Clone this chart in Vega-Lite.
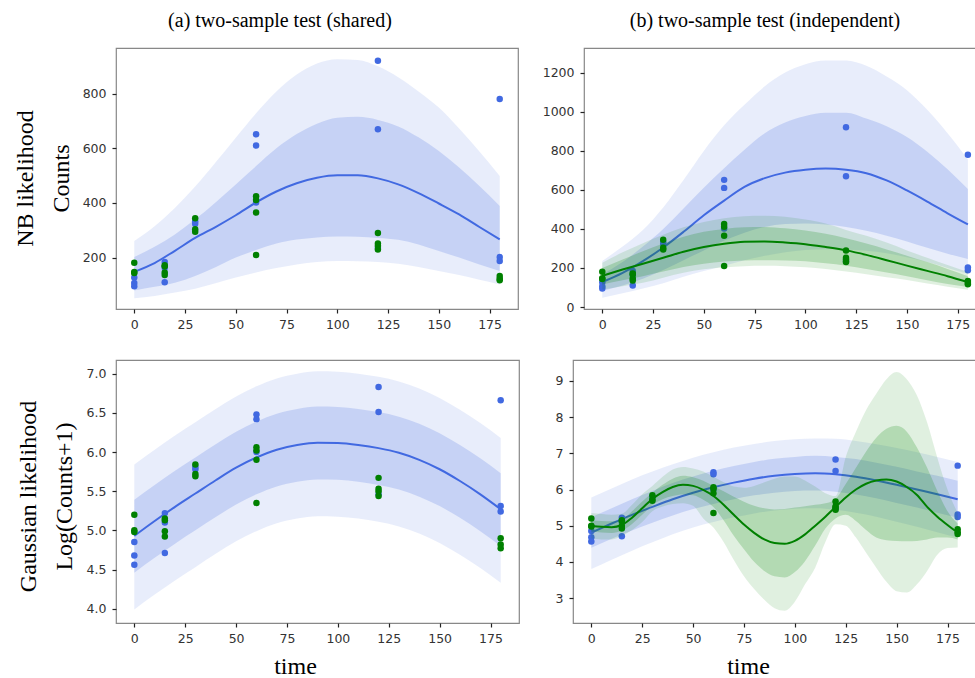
{
"$schema": "https://vega.github.io/schema/vega-lite/v6.json",
"background": "white",
"padding": {"left": 12, "top": 10, "right": 0, "bottom": 10},
"datasets": {
"obs": [
{"s":"c","g":"b","t":0,"y":127},{"s":"c","g":"b","t":0,"y":107},{"s":"c","g":"b","t":0,"y":95},{"s":"c","g":"b","t":15,"y":184},{"s":"c","g":"b","t":15,"y":163},{"s":"c","g":"b","t":15,"y":110},{"s":"c","g":"b","t":30,"y":333},{"s":"c","g":"b","t":30,"y":324},{"s":"c","g":"b","t":60,"y":651},{"s":"c","g":"b","t":60,"y":610},{"s":"c","g":"b","t":60,"y":402},{"s":"c","g":"b","t":120,"y":920},{"s":"c","g":"b","t":120,"y":670},{"s":"c","g":"b","t":120,"y":235},{"s":"c","g":"b","t":180,"y":780},{"s":"c","g":"b","t":180,"y":202},{"s":"c","g":"b","t":180,"y":188},
{"s":"c","g":"g","t":0,"y":181},{"s":"c","g":"g","t":0,"y":147},{"s":"c","g":"g","t":0,"y":144},{"s":"c","g":"g","t":15,"y":172},{"s":"c","g":"g","t":15,"y":168},{"s":"c","g":"g","t":15,"y":146},{"s":"c","g":"g","t":15,"y":136},{"s":"c","g":"g","t":30,"y":344},{"s":"c","g":"g","t":30,"y":304},{"s":"c","g":"g","t":30,"y":295},{"s":"c","g":"g","t":60,"y":425},{"s":"c","g":"g","t":60,"y":411},{"s":"c","g":"g","t":60,"y":365},{"s":"c","g":"g","t":60,"y":210},{"s":"c","g":"g","t":120,"y":290},{"s":"c","g":"g","t":120,"y":252},{"s":"c","g":"g","t":120,"y":243},{"s":"c","g":"g","t":120,"y":230},{"s":"c","g":"g","t":180,"y":133},{"s":"c","g":"g","t":180,"y":123},{"s":"c","g":"g","t":180,"y":117},
{"s":"l","g":"b","t":0,"y":4.85},{"s":"l","g":"b","t":0,"y":4.68},{"s":"l","g":"b","t":0,"y":4.56},{"s":"l","g":"b","t":15,"y":5.22},{"s":"l","g":"b","t":15,"y":5.10},{"s":"l","g":"b","t":15,"y":4.71},{"s":"l","g":"b","t":30,"y":5.81},{"s":"l","g":"b","t":30,"y":5.78},{"s":"l","g":"b","t":60,"y":6.48},{"s":"l","g":"b","t":60,"y":6.42},{"s":"l","g":"b","t":60,"y":6.00},{"s":"l","g":"b","t":120,"y":6.83},{"s":"l","g":"b","t":120,"y":6.51},{"s":"l","g":"b","t":120,"y":5.46},{"s":"l","g":"b","t":180,"y":6.66},{"s":"l","g":"b","t":180,"y":5.31},{"s":"l","g":"b","t":180,"y":5.24},
{"s":"l","g":"g","t":0,"y":5.20},{"s":"l","g":"g","t":0,"y":5.00},{"s":"l","g":"g","t":0,"y":4.98},{"s":"l","g":"g","t":15,"y":5.15},{"s":"l","g":"g","t":15,"y":5.13},{"s":"l","g":"g","t":15,"y":4.99},{"s":"l","g":"g","t":15,"y":4.92},{"s":"l","g":"g","t":30,"y":5.84},{"s":"l","g":"g","t":30,"y":5.72},{"s":"l","g":"g","t":30,"y":5.69},{"s":"l","g":"g","t":60,"y":6.06},{"s":"l","g":"g","t":60,"y":6.02},{"s":"l","g":"g","t":60,"y":5.90},{"s":"l","g":"g","t":60,"y":5.35},{"s":"l","g":"g","t":120,"y":5.67},{"s":"l","g":"g","t":120,"y":5.53},{"s":"l","g":"g","t":120,"y":5.50},{"s":"l","g":"g","t":120,"y":5.44},{"s":"l","g":"g","t":180,"y":4.90},{"s":"l","g":"g","t":180,"y":4.82},{"s":"l","g":"g","t":180,"y":4.77}
],
"fit": [
{"p":"A","g":"b","t":0,"m":148,"il":80,"ih":202,"ol":51,"oh":261},
{"p":"A","g":"b","t":10,"m":180,"il":93,"ih":240,"ol":60,"oh":315},
{"p":"A","g":"b","t":20,"m":225,"il":108,"ih":285,"ol":72,"oh":382},
{"p":"A","g":"b","t":30,"m":272,"il":133,"ih":340,"ol":86,"oh":460},
{"p":"A","g":"b","t":40,"m":312,"il":165,"ih":402,"ol":106,"oh":548},
{"p":"A","g":"b","t":50,"m":355,"il":200,"ih":468,"ol":127,"oh":639},
{"p":"A","g":"b","t":60,"m":402,"il":228,"ih":535,"ol":146,"oh":728},
{"p":"A","g":"b","t":70,"m":442,"il":252,"ih":600,"ol":162,"oh":808},
{"p":"A","g":"b","t":80,"m":472,"il":266,"ih":652,"ol":175,"oh":870},
{"p":"A","g":"b","t":90,"m":492,"il":274,"ih":690,"ol":184,"oh":910},
{"p":"A","g":"b","t":100,"m":501,"il":277,"ih":712,"ol":188,"oh":926},
{"p":"A","g":"b","t":110,"m":501,"il":276,"ih":715,"ol":187,"oh":923},
{"p":"A","g":"b","t":120,"m":490,"il":272,"ih":704,"ol":184,"oh":900},
{"p":"A","g":"b","t":130,"m":468,"il":265,"ih":680,"ol":178,"oh":860},
{"p":"A","g":"b","t":140,"m":436,"il":248,"ih":640,"ol":166,"oh":808},
{"p":"A","g":"b","t":150,"m":398,"il":224,"ih":590,"ol":151,"oh":749},
{"p":"A","g":"b","t":160,"m":358,"il":200,"ih":530,"ol":136,"oh":672},
{"p":"A","g":"b","t":170,"m":312,"il":175,"ih":462,"ol":119,"oh":588},
{"p":"A","g":"b","t":180,"m":267,"il":151,"ih":389,"ol":102,"oh":499},
{"p":"B","g":"b","t":0,"m":128,"il":82,"ih":167,"ol":48,"oh":236},
{"p":"B","g":"b","t":10,"m":175,"il":110,"ih":230,"ol":70,"oh":310},
{"p":"B","g":"b","t":20,"m":235,"il":145,"ih":310,"ol":95,"oh":395},
{"p":"B","g":"b","t":30,"m":305,"il":190,"ih":400,"ol":122,"oh":510},
{"p":"B","g":"b","t":40,"m":385,"il":240,"ih":505,"ol":155,"oh":650},
{"p":"B","g":"b","t":50,"m":470,"il":290,"ih":611,"ol":184,"oh":799},
{"p":"B","g":"b","t":60,"m":545,"il":340,"ih":710,"ol":212,"oh":930},
{"p":"B","g":"b","t":70,"m":615,"il":380,"ih":805,"ol":240,"oh":1035},
{"p":"B","g":"b","t":80,"m":660,"il":410,"ih":890,"ol":262,"oh":1130},
{"p":"B","g":"b","t":90,"m":688,"il":425,"ih":945,"ol":280,"oh":1200},
{"p":"B","g":"b","t":100,"m":703,"il":428,"ih":978,"ol":292,"oh":1243},
{"p":"B","g":"b","t":110,"m":709,"il":423,"ih":995,"ol":296,"oh":1262},
{"p":"B","g":"b","t":120,"m":703,"il":410,"ih":995,"ol":295,"oh":1262},
{"p":"B","g":"b","t":130,"m":685,"il":390,"ih":965,"ol":288,"oh":1235},
{"p":"B","g":"b","t":140,"m":648,"il":365,"ih":925,"ol":275,"oh":1180},
{"p":"B","g":"b","t":150,"m":597,"il":335,"ih":870,"ol":255,"oh":1110},
{"p":"B","g":"b","t":160,"m":540,"il":303,"ih":795,"ol":230,"oh":1010},
{"p":"B","g":"b","t":170,"m":480,"il":273,"ih":705,"ol":200,"oh":890},
{"p":"B","g":"b","t":180,"m":423,"il":246,"ih":604,"ol":170,"oh":756},
{"p":"B","g":"g","t":0,"m":160,"il":116,"ih":200,"ol":90,"oh":227},
{"p":"B","g":"g","t":10,"m":192,"il":137,"ih":243,"ol":107,"oh":280},
{"p":"B","g":"g","t":20,"m":222,"il":158,"ih":285,"ol":124,"oh":327},
{"p":"B","g":"g","t":30,"m":252,"il":182,"ih":325,"ol":150,"oh":370},
{"p":"B","g":"g","t":40,"m":283,"il":205,"ih":360,"ol":175,"oh":408},
{"p":"B","g":"g","t":50,"m":307,"il":222,"ih":385,"ol":193,"oh":435},
{"p":"B","g":"g","t":60,"m":324,"il":233,"ih":400,"ol":203,"oh":455},
{"p":"B","g":"g","t":70,"m":334,"il":238,"ih":408,"ol":209,"oh":465},
{"p":"B","g":"g","t":80,"m":336,"il":240,"ih":410,"ol":211,"oh":467},
{"p":"B","g":"g","t":90,"m":331,"il":238,"ih":403,"ol":209,"oh":462},
{"p":"B","g":"g","t":100,"m":322,"il":234,"ih":392,"ol":204,"oh":448},
{"p":"B","g":"g","t":110,"m":307,"il":224,"ih":375,"ol":195,"oh":428},
{"p":"B","g":"g","t":120,"m":290,"il":212,"ih":352,"ol":182,"oh":395},
{"p":"B","g":"g","t":130,"m":267,"il":195,"ih":325,"ol":168,"oh":365},
{"p":"B","g":"g","t":140,"m":240,"il":177,"ih":295,"ol":152,"oh":330},
{"p":"B","g":"g","t":150,"m":212,"il":158,"ih":263,"ol":138,"oh":290},
{"p":"B","g":"g","t":160,"m":185,"il":137,"ih":230,"ol":120,"oh":252},
{"p":"B","g":"g","t":170,"m":158,"il":118,"ih":195,"ol":104,"oh":215},
{"p":"B","g":"g","t":180,"m":128,"il":102,"ih":158,"ol":88,"oh":180},
{"p":"C","g":"b","t":0,"m":4.93,"il":4.46,"ih":5.39,"ol":3.99,"oh":5.84},
{"p":"C","g":"b","t":10,"m":5.12,"il":4.65,"ih":5.58,"ol":4.18,"oh":6.03},
{"p":"C","g":"b","t":20,"m":5.30,"il":4.83,"ih":5.76,"ol":4.36,"oh":6.21},
{"p":"C","g":"b","t":30,"m":5.47,"il":5.00,"ih":5.93,"ol":4.53,"oh":6.38},
{"p":"C","g":"b","t":40,"m":5.64,"il":5.17,"ih":6.10,"ol":4.70,"oh":6.55},
{"p":"C","g":"b","t":50,"m":5.80,"il":5.33,"ih":6.26,"ol":4.86,"oh":6.71},
{"p":"C","g":"b","t":60,"m":5.93,"il":5.46,"ih":6.39,"ol":4.99,"oh":6.84},
{"p":"C","g":"b","t":70,"m":6.03,"il":5.56,"ih":6.49,"ol":5.09,"oh":6.94},
{"p":"C","g":"b","t":80,"m":6.09,"il":5.62,"ih":6.55,"ol":5.15,"oh":7.00},
{"p":"C","g":"b","t":90,"m":6.12,"il":5.65,"ih":6.58,"ol":5.18,"oh":7.03},
{"p":"C","g":"b","t":100,"m":6.115,"il":5.645,"ih":6.575,"ol":5.175,"oh":7.025},
{"p":"C","g":"b","t":110,"m":6.09,"il":5.62,"ih":6.55,"ol":5.15,"oh":7.00},
{"p":"C","g":"b","t":120,"m":6.05,"il":5.58,"ih":6.51,"ol":5.11,"oh":6.96},
{"p":"C","g":"b","t":130,"m":5.99,"il":5.52,"ih":6.45,"ol":5.05,"oh":6.90},
{"p":"C","g":"b","t":140,"m":5.90,"il":5.43,"ih":6.36,"ol":4.96,"oh":6.81},
{"p":"C","g":"b","t":150,"m":5.78,"il":5.31,"ih":6.24,"ol":4.84,"oh":6.69},
{"p":"C","g":"b","t":160,"m":5.63,"il":5.16,"ih":6.09,"ol":4.69,"oh":6.54},
{"p":"C","g":"b","t":170,"m":5.46,"il":4.99,"ih":5.92,"ol":4.52,"oh":6.37},
{"p":"C","g":"b","t":180,"m":5.27,"il":4.80,"ih":5.73,"ol":4.33,"oh":6.18},
{"p":"D","g":"b","t":0,"m":4.81,"il":4.39,"ih":5.23,"ol":3.80,"oh":5.78},
{"p":"D","g":"b","t":10,"m":5.06,"il":4.64,"ih":5.48,"ol":4.06,"oh":6.03},
{"p":"D","g":"b","t":20,"m":5.30,"il":4.87,"ih":5.73,"ol":4.31,"oh":6.28},
{"p":"D","g":"b","t":30,"m":5.52,"il":5.08,"ih":5.96,"ol":4.54,"oh":6.50},
{"p":"D","g":"b","t":40,"m":5.73,"il":5.28,"ih":6.18,"ol":4.76,"oh":6.70},
{"p":"D","g":"b","t":50,"m":5.91,"il":5.46,"ih":6.36,"ol":4.95,"oh":6.88},
{"p":"D","g":"b","t":60,"m":6.06,"il":5.60,"ih":6.52,"ol":5.10,"oh":7.03},
{"p":"D","g":"b","t":70,"m":6.19,"il":5.73,"ih":6.65,"ol":5.23,"oh":7.16},
{"p":"D","g":"b","t":80,"m":6.30,"il":5.84,"ih":6.76,"ol":5.34,"oh":7.26},
{"p":"D","g":"b","t":90,"m":6.38,"il":5.91,"ih":6.85,"ol":5.42,"oh":7.34},
{"p":"D","g":"b","t":100,"m":6.43,"il":5.96,"ih":6.90,"ol":5.47,"oh":7.39},
{"p":"D","g":"b","t":110,"m":6.45,"il":5.97,"ih":6.93,"ol":5.48,"oh":7.41},
{"p":"D","g":"b","t":120,"m":6.42,"il":5.94,"ih":6.90,"ol":5.44,"oh":7.40},
{"p":"D","g":"b","t":130,"m":6.35,"il":5.86,"ih":6.84,"ol":5.36,"oh":7.34},
{"p":"D","g":"b","t":140,"m":6.25,"il":5.76,"ih":6.74,"ol":5.25,"oh":7.25},
{"p":"D","g":"b","t":150,"m":6.13,"il":5.63,"ih":6.63,"ol":5.11,"oh":7.15},
{"p":"D","g":"b","t":160,"m":6.00,"il":5.50,"ih":6.50,"ol":4.97,"oh":7.03},
{"p":"D","g":"b","t":170,"m":5.87,"il":5.36,"ih":6.38,"ol":4.82,"oh":6.90},
{"p":"D","g":"b","t":180,"m":5.73,"il":5.22,"ih":6.24,"ol":4.67,"oh":6.76},
{"p":"D","g":"g","t":0,"m":4.99,"il":4.84,"ih":5.14,"ol":4.65,"oh":5.35},
{"p":"D","g":"g","t":5,"m":4.97,"il":4.81,"ih":5.13,"ol":4.62,"oh":5.32},
{"p":"D","g":"g","t":10,"m":4.96,"il":4.80,"ih":5.12,"ol":4.62,"oh":5.30},
{"p":"D","g":"g","t":15,"m":5.02,"il":4.87,"ih":5.17,"ol":4.72,"oh":5.33},
{"p":"D","g":"g","t":20,"m":5.22,"il":5.05,"ih":5.40,"ol":4.88,"oh":5.58},
{"p":"D","g":"g","t":25,"m":5.48,"il":5.30,"ih":5.67,"ol":5.10,"oh":5.87},
{"p":"D","g":"g","t":30,"m":5.74,"il":5.57,"ih":5.91,"ol":5.40,"oh":6.10},
{"p":"D","g":"g","t":35,"m":5.93,"il":5.73,"ih":6.13,"ol":5.53,"oh":6.35},
{"p":"D","g":"g","t":40,"m":6.07,"il":5.82,"ih":6.30,"ol":5.60,"oh":6.55},
{"p":"D","g":"g","t":45,"m":6.13,"il":5.86,"ih":6.38,"ol":5.62,"oh":6.62},
{"p":"D","g":"g","t":50,"m":6.10,"il":5.84,"ih":6.34,"ol":5.55,"oh":6.58},
{"p":"D","g":"g","t":55,"m":5.99,"il":5.72,"ih":6.24,"ol":5.20,"oh":6.50},
{"p":"D","g":"g","t":60,"m":5.82,"il":5.52,"ih":6.10,"ol":4.95,"oh":6.35},
{"p":"D","g":"g","t":65,"m":5.58,"il":5.15,"ih":5.95,"ol":4.55,"oh":6.20},
{"p":"D","g":"g","t":70,"m":5.30,"il":4.72,"ih":5.80,"ol":4.05,"oh":6.08},
{"p":"D","g":"g","t":75,"m":5.03,"il":4.35,"ih":5.66,"ol":3.60,"oh":6.05},
{"p":"D","g":"g","t":80,"m":4.80,"il":4.00,"ih":5.55,"ol":3.25,"oh":6.10},
{"p":"D","g":"g","t":85,"m":4.62,"il":3.75,"ih":5.48,"ol":2.95,"oh":6.20},
{"p":"D","g":"g","t":90,"m":4.52,"il":3.60,"ih":5.45,"ol":2.72,"oh":6.30},
{"p":"D","g":"g","t":95,"m":4.50,"il":3.57,"ih":5.46,"ol":2.65,"oh":6.36},
{"p":"D","g":"g","t":100,"m":4.58,"il":3.72,"ih":5.50,"ol":2.90,"oh":6.36},
{"p":"D","g":"g","t":105,"m":4.76,"il":4.02,"ih":5.54,"ol":3.38,"oh":6.25},
{"p":"D","g":"g","t":110,"m":5.00,"il":4.45,"ih":5.58,"ol":3.84,"oh":6.08},
{"p":"D","g":"g","t":115,"m":5.25,"il":4.92,"ih":5.62,"ol":4.55,"oh":5.90},
{"p":"D","g":"g","t":120,"m":5.52,"il":5.20,"ih":5.74,"ol":5.04,"oh":5.82},
{"p":"D","g":"g","t":125,"m":5.78,"il":5.30,"ih":6.15,"ol":5.00,"oh":6.90},
{"p":"D","g":"g","t":130,"m":6.00,"il":5.13,"ih":6.60,"ol":4.67,"oh":7.60},
{"p":"D","g":"g","t":135,"m":6.16,"il":4.88,"ih":7.05,"ol":4.25,"oh":8.20},
{"p":"D","g":"g","t":140,"m":6.25,"il":4.67,"ih":7.43,"ol":3.84,"oh":8.65},
{"p":"D","g":"g","t":145,"m":6.28,"il":4.60,"ih":7.68,"ol":3.45,"oh":9.05},
{"p":"D","g":"g","t":150,"m":6.22,"il":4.58,"ih":7.76,"ol":3.19,"oh":9.25},
{"p":"D","g":"g","t":155,"m":6.07,"il":4.57,"ih":7.60,"ol":3.15,"oh":9.05},
{"p":"D","g":"g","t":160,"m":5.85,"il":4.58,"ih":7.16,"ol":3.38,"oh":8.60},
{"p":"D","g":"g","t":165,"m":5.52,"il":4.62,"ih":6.60,"ol":3.75,"oh":7.85},
{"p":"D","g":"g","t":170,"m":5.25,"il":4.67,"ih":5.96,"ol":4.20,"oh":6.88},
{"p":"D","g":"g","t":175,"m":5.02,"il":4.67,"ih":5.40,"ol":4.38,"oh":6.00},
{"p":"D","g":"g","t":180,"m":4.81,"il":4.62,"ih":5.06,"ol":4.40,"oh":5.35}
]
},
"spacing": 27,
"vconcat": [
{"hconcat": [
{"width": 402, "height": 261,
 "title": {"text": "(a) two-sample test (shared)", "frame": "group", "anchor": "middle", "dx": -37, "offset": 17},
 "encoding": {"x": {"field": "t", "type": "quantitative", "scale": {"domain": [-9, 189], "nice": false, "zero": false}, "axis": {"values": [0,25,50,75,100,125,150,175], "title": null}}},
 "layer": [
  {"data": {"name": "fit"}, "transform": [{"filter": "datum.p=='A'&&datum.g=='b'"}], "mark": {"type": "area", "interpolate": "monotone", "color": "#4169E1", "opacity": 0.12},
   "encoding": {"y": {"field": "ol", "type": "quantitative", "scale": {"domain": [12, 967], "nice": false, "zero": false}, "axis": {"values": [200,400,600,800], "format": "d", "title": ["NB likelihood", "Counts"], "titleX": -84, "titleY": 130, "titleBaseline": "alphabetic", "titleAngle": 270, "titleAlign": "center"}}, "y2": {"field": "oh"}}},
  {"data": {"name": "fit"}, "transform": [{"filter": "datum.p=='A'&&datum.g=='b'"}], "mark": {"type": "area", "interpolate": "monotone", "color": "#4169E1", "opacity": 0.2}, "encoding": {"y": {"field": "il", "type": "quantitative"}, "y2": {"field": "ih"}}},
  {"data": {"name": "fit"}, "transform": [{"filter": "datum.p=='A'&&datum.g=='b'"}], "mark": {"type": "line", "interpolate": "monotone", "color": "#4169E1", "strokeWidth": 2}, "encoding": {"y": {"field": "m", "type": "quantitative"}}},
  {"data": {"name": "obs"}, "transform": [{"filter": "datum.s=='c'&&datum.g=='b'"}], "mark": {"type": "circle", "color": "#4169E1", "size": 42, "opacity": 1}, "encoding": {"y": {"field": "y", "type": "quantitative"}}},
  {"data": {"name": "obs"}, "transform": [{"filter": "datum.s=='c'&&datum.g=='g'"}], "mark": {"type": "circle", "color": "#008000", "size": 42, "opacity": 1}, "encoding": {"y": {"field": "y", "type": "quantitative"}}}
 ]},
{"width": 392, "height": 261,
 "title": {"text": "(b) two-sample test (independent)", "frame": "group", "anchor": "middle", "dx": -15, "offset": 17},
 "encoding": {"x": {"field": "t", "type": "quantitative", "scale": {"domain": [-9, 184], "nice": false, "zero": false}, "axis": {"values": [0,25,50,75,100,125,150,175], "title": null}}},
 "layer": [
  {"data": {"name": "fit"}, "transform": [{"filter": "datum.p=='B'&&datum.g=='b'"}], "mark": {"type": "area", "interpolate": "monotone", "color": "#4169E1", "opacity": 0.12},
   "encoding": {"y": {"field": "ol", "type": "quantitative", "scale": {"domain": [-10, 1326], "nice": false, "zero": false}, "axis": {"values": [0,200,400,600,800,1000,1200], "format": "d", "title": null}}, "y2": {"field": "oh"}}},
  {"data": {"name": "fit"}, "transform": [{"filter": "datum.p=='B'&&datum.g=='b'"}], "mark": {"type": "area", "interpolate": "monotone", "color": "#4169E1", "opacity": 0.2}, "encoding": {"y": {"field": "il", "type": "quantitative"}, "y2": {"field": "ih"}}},
  {"data": {"name": "fit"}, "transform": [{"filter": "datum.p=='B'&&datum.g=='b'"}], "mark": {"type": "line", "interpolate": "monotone", "color": "#4169E1", "strokeWidth": 2}, "encoding": {"y": {"field": "m", "type": "quantitative"}}},
  {"data": {"name": "obs"}, "transform": [{"filter": "datum.s=='c'&&datum.g=='b'"}], "mark": {"type": "circle", "color": "#4169E1", "size": 42, "opacity": 1}, "encoding": {"y": {"field": "y", "type": "quantitative"}}},
  {"data": {"name": "fit"}, "transform": [{"filter": "datum.p=='B'&&datum.g=='g'"}], "mark": {"type": "area", "interpolate": "monotone", "color": "#008000", "opacity": 0.12}, "encoding": {"y": {"field": "ol", "type": "quantitative"}, "y2": {"field": "oh"}}},
  {"data": {"name": "fit"}, "transform": [{"filter": "datum.p=='B'&&datum.g=='g'"}], "mark": {"type": "area", "interpolate": "monotone", "color": "#008000", "opacity": 0.2}, "encoding": {"y": {"field": "il", "type": "quantitative"}, "y2": {"field": "ih"}}},
  {"data": {"name": "fit"}, "transform": [{"filter": "datum.p=='B'&&datum.g=='g'"}], "mark": {"type": "line", "interpolate": "monotone", "color": "#008000", "strokeWidth": 2}, "encoding": {"y": {"field": "m", "type": "quantitative"}}},
  {"data": {"name": "obs"}, "transform": [{"filter": "datum.s=='c'&&datum.g=='g'"}], "mark": {"type": "circle", "color": "#008000", "size": 42, "opacity": 1}, "encoding": {"y": {"field": "y", "type": "quantitative"}}}
 ]}
], "spacing": 22},
{"hconcat": [
{"width": 403, "height": 263,
 "encoding": {"x": {"field": "t", "type": "quantitative", "scale": {"domain": [-9, 189], "nice": false, "zero": false}, "axis": {"values": [0,25,50,75,100,125,150,175], "title": "time", "titleX": 179, "titleY": 50, "titleBaseline": "alphabetic", "titleAlign": "center"}}},
 "layer": [
  {"data": {"name": "fit"}, "transform": [{"filter": "datum.p=='C'&&datum.g=='b'"}], "mark": {"type": "area", "interpolate": "monotone", "color": "#4169E1", "opacity": 0.12},
   "encoding": {"y": {"field": "ol", "type": "quantitative", "scale": {"domain": [3.817, 7.175], "nice": false, "zero": false}, "axis": {"values": [4,4.5,5,5.5,6,6.5,7], "format": ".1f", "title": ["Gaussian likelihood", "Log(Counts+1)"], "titleX": -81, "titleY": 136, "titleBaseline": "alphabetic", "titleAngle": 270, "titleAlign": "center"}}, "y2": {"field": "oh"}}},
  {"data": {"name": "fit"}, "transform": [{"filter": "datum.p=='C'&&datum.g=='b'"}], "mark": {"type": "area", "interpolate": "monotone", "color": "#4169E1", "opacity": 0.2}, "encoding": {"y": {"field": "il", "type": "quantitative"}, "y2": {"field": "ih"}}},
  {"data": {"name": "fit"}, "transform": [{"filter": "datum.p=='C'&&datum.g=='b'"}], "mark": {"type": "line", "interpolate": "monotone", "color": "#4169E1", "strokeWidth": 2}, "encoding": {"y": {"field": "m", "type": "quantitative"}}},
  {"data": {"name": "obs"}, "transform": [{"filter": "datum.s=='l'&&datum.g=='b'"}], "mark": {"type": "circle", "color": "#4169E1", "size": 42, "opacity": 1}, "encoding": {"y": {"field": "y", "type": "quantitative"}}},
  {"data": {"name": "obs"}, "transform": [{"filter": "datum.s=='l'&&datum.g=='g'"}], "mark": {"type": "circle", "color": "#008000", "size": 42, "opacity": 1}, "encoding": {"y": {"field": "y", "type": "quantitative"}}}
 ]},
{"width": 403, "height": 263,
 "encoding": {"x": {"field": "t", "type": "quantitative", "scale": {"domain": [-9, 189], "nice": false, "zero": false}, "axis": {"values": [0,25,50,75,100,125,150,175], "title": "time", "titleX": 175, "titleY": 50, "titleBaseline": "alphabetic", "titleAlign": "center"}}},
 "layer": [
  {"data": {"name": "fit"}, "transform": [{"filter": "datum.p=='D'&&datum.g=='b'"}], "mark": {"type": "area", "interpolate": "monotone", "color": "#4169E1", "opacity": 0.12},
   "encoding": {"y": {"field": "ol", "type": "quantitative", "scale": {"domain": [2.31, 9.58], "nice": false, "zero": false}, "axis": {"values": [3,4,5,6,7,8,9], "title": null}}, "y2": {"field": "oh"}}},
  {"data": {"name": "fit"}, "transform": [{"filter": "datum.p=='D'&&datum.g=='b'"}], "mark": {"type": "area", "interpolate": "monotone", "color": "#4169E1", "opacity": 0.2}, "encoding": {"y": {"field": "il", "type": "quantitative"}, "y2": {"field": "ih"}}},
  {"data": {"name": "fit"}, "transform": [{"filter": "datum.p=='D'&&datum.g=='b'"}], "mark": {"type": "line", "interpolate": "monotone", "color": "#4169E1", "strokeWidth": 2}, "encoding": {"y": {"field": "m", "type": "quantitative"}}},
  {"data": {"name": "obs"}, "transform": [{"filter": "datum.s=='l'&&datum.g=='b'"}], "mark": {"type": "circle", "color": "#4169E1", "size": 42, "opacity": 1}, "encoding": {"y": {"field": "y", "type": "quantitative"}}},
  {"data": {"name": "fit"}, "transform": [{"filter": "datum.p=='D'&&datum.g=='g'"}], "mark": {"type": "area", "interpolate": "monotone", "color": "#008000", "opacity": 0.12}, "encoding": {"y": {"field": "ol", "type": "quantitative"}, "y2": {"field": "oh"}}},
  {"data": {"name": "fit"}, "transform": [{"filter": "datum.p=='D'&&datum.g=='g'"}], "mark": {"type": "area", "interpolate": "monotone", "color": "#008000", "opacity": 0.2}, "encoding": {"y": {"field": "il", "type": "quantitative"}, "y2": {"field": "ih"}}},
  {"data": {"name": "fit"}, "transform": [{"filter": "datum.p=='D'&&datum.g=='g'"}], "mark": {"type": "line", "interpolate": "monotone", "color": "#008000", "strokeWidth": 2}, "encoding": {"y": {"field": "m", "type": "quantitative"}}},
  {"data": {"name": "obs"}, "transform": [{"filter": "datum.s=='l'&&datum.g=='g'"}], "mark": {"type": "circle", "color": "#008000", "size": 42, "opacity": 1}, "encoding": {"y": {"field": "y", "type": "quantitative"}}}
 ]}
], "spacing": 34}
],
"config": {
 "view": {"stroke": "#888", "strokeWidth": 1.2},
 "axis": {"grid": false, "domain": false, "ticks": true, "tickColor": "#222", "tickSize": 4, "tickWidth": 1.2, "labelFont": "DejaVu Sans", "labelFontSize": 12.5, "labelColor": "#333", "labelFlush": false, "labelOverlap": false, "labelBound": false, "titleFont": "Liberation Serif", "titleFontSize": 24, "titleFontWeight": "normal", "titleColor": "#000", "titleLineHeight": 36},
 "axisY": {"labelPadding": 6},
 "axisX": {"labelPadding": 5},
 "title": {"font": "Liberation Serif", "fontSize": 20, "fontWeight": "normal", "color": "#000"}
}
}
